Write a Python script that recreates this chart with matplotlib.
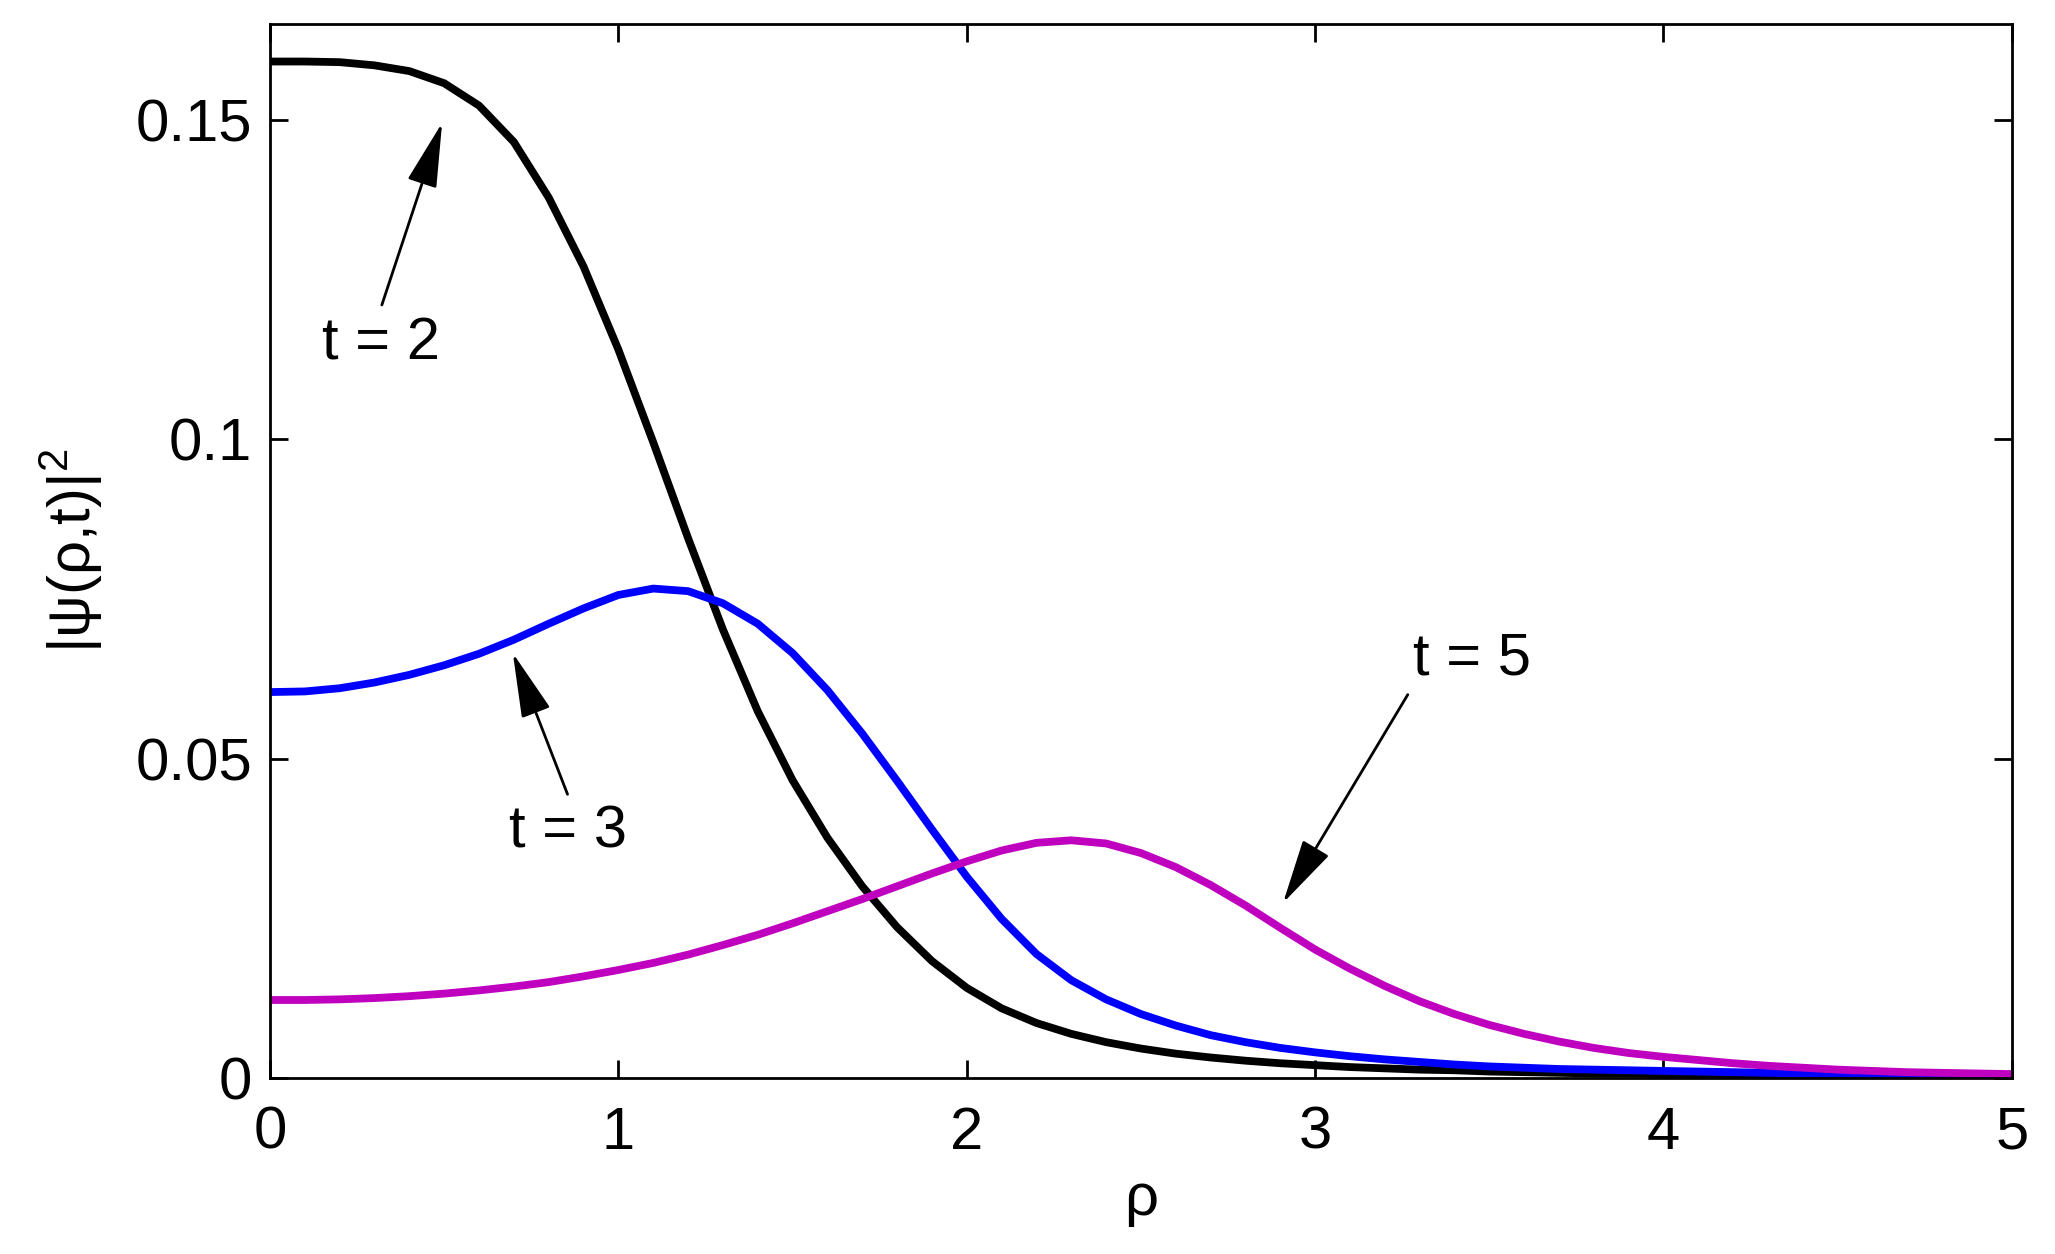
import matplotlib
matplotlib.use("Agg")
import matplotlib.pyplot as plt

plt.rcParams['font.family'] = ['Liberation Sans', 'DejaVu Sans']
plt.rcParams['mathtext.default'] = 'regular'

rho = [0.0, 0.1, 0.2, 0.3, 0.4, 0.5, 0.6, 0.7, 0.8, 0.9,
       1.0, 1.1, 1.2, 1.3, 1.4, 1.5, 1.6, 1.7, 1.8, 1.9,
       2.0, 2.1, 2.2, 2.3, 2.4, 2.5, 2.6, 2.7, 2.8, 2.9,
       3.0, 3.1, 3.2, 3.3, 3.4, 3.5, 3.6, 3.7, 3.8, 3.9,
       4.0, 4.1, 4.2, 4.3, 4.4, 4.5, 4.6, 4.7, 4.8, 4.9, 5.0]

psi_t2 = [0.1591, 0.1591, 0.1590, 0.1585, 0.1576, 0.1557, 0.1522, 0.1465, 0.1378, 0.1270,
          0.1140, 0.0995, 0.0845, 0.0702, 0.0574, 0.0466, 0.0376, 0.0300, 0.0236, 0.0183,
          0.0141, 0.0109, 0.0086, 0.0069, 0.0056, 0.0046, 0.0038, 0.0032, 0.0027, 0.0023,
          0.0020, 0.0017, 0.0015, 0.0013, 0.0012, 0.0010, 0.0009, 0.0008, 0.0007, 0.0007,
          0.0006, 0.0005, 0.0005, 0.0004, 0.0004, 0.0003, 0.0003, 0.0003, 0.0002, 0.0002, 0.0002]

psi_t3 = [0.0604, 0.0605, 0.0610, 0.0619, 0.0631, 0.0646, 0.0664, 0.0686, 0.0711, 0.0735,
          0.0756, 0.0766, 0.0762, 0.0743, 0.0711, 0.0665, 0.0607, 0.0539, 0.0465, 0.0389,
          0.0315, 0.0249, 0.0194, 0.0153, 0.0123, 0.0100, 0.0082, 0.0067, 0.0056, 0.0047,
          0.0040, 0.0034, 0.0029, 0.0025, 0.0021, 0.0018, 0.0016, 0.0014, 0.0013, 0.0012,
          0.0011, 0.0010, 0.0009, 0.0008, 0.0007, 0.0007, 0.0006, 0.0006, 0.0005, 0.0005, 0.0005]

psi_t5 = [0.0122, 0.0122, 0.0123, 0.0125, 0.0128, 0.0132, 0.0137, 0.0143, 0.0150, 0.0159,
          0.0169, 0.0180, 0.0193, 0.0208, 0.0224, 0.0242, 0.0261, 0.0280, 0.0300, 0.0320,
          0.0339, 0.0356, 0.0368, 0.0372, 0.0367, 0.0352, 0.0330, 0.0302, 0.0270, 0.0235,
          0.0201, 0.0171, 0.0144, 0.0120, 0.0100, 0.0083, 0.0069, 0.0057, 0.0047, 0.0039,
          0.0033, 0.0028, 0.0023, 0.0019, 0.0016, 0.0013, 0.0011, 0.0009, 0.0008, 0.0007, 0.0006]

x_ticks = [0, 1, 2, 3, 4, 5]
y_ticks = [0, 0.05, 0.1, 0.15]
y_tick_labels = ['0', '0.05', '0.1', '0.15']

labels = ['t = 2', 't = 3', 't = 5']
label_text_pos = [(0.319, 0.1149), (0.856, 0.0385), (3.45, 0.0656)]
arrow_start = [(0.321, 0.1210), (0.854, 0.0444), (3.266, 0.0600)]
arrow_tip = [(0.494, 0.1495), (0.697, 0.0665), (2.908, 0.0274)]

fig = plt.figure(figsize=(20.55, 12.54), dpi=100)
ax = fig.add_axes([0.1314, 0.1404, 0.8476, 0.8406])

ax.plot(rho, psi_t2, color='black', lw=5.6, solid_joinstyle='round')
ax.plot(rho, psi_t3, color='#0000FF', lw=5.6, solid_joinstyle='round')
ax.plot(rho, psi_t5, color='#BF00BF', lw=5.6, solid_joinstyle='round')

ax.set_xlim(0, 5)
ax.set_ylim(0, 0.165)
ax.set_xticks(x_ticks)
ax.set_xticklabels([str(v) for v in x_ticks])
ax.set_yticks(y_ticks)
ax.set_yticklabels(y_tick_labels)

ax.tick_params(direction='in', length=13, width=2.0, top=True, right=True,
               labelsize=43)
ax.tick_params(axis='x', pad=20)
ax.tick_params(axis='y', pad=13)
for s in ax.spines.values():
    s.set_linewidth(2.0)

ax.set_xlabel('ρ', fontsize=43, labelpad=8)
ax.set_ylabel(r'|ψ(ρ,t)|$^{2}$', fontsize=43, labelpad=22)

for lab, tp, st, tip in zip(labels, label_text_pos, arrow_start, arrow_tip):
    ax.text(tp[0], tp[1], lab, fontsize=43, ha='center', va='center')
    ax.annotate('', xy=tip, xytext=st,
                arrowprops=dict(arrowstyle='-|>,head_length=1.45,head_width=0.34',
                                color='black', lw=2, mutation_scale=28,
                                shrinkA=0, shrinkB=0))

fig.savefig('out.png', dpi=100)
